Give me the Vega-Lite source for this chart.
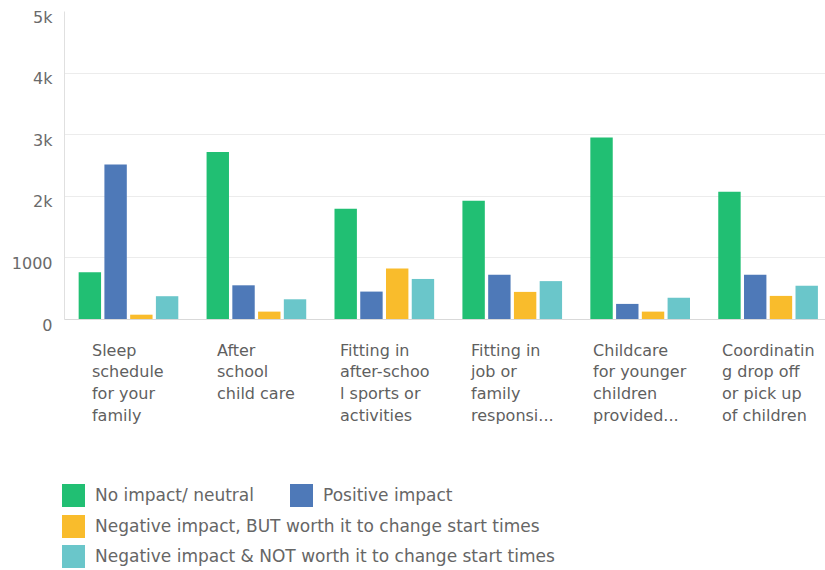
{
  "$schema": "https://vega.github.io/schema/vega-lite/v6.json",
  "width": 761,
  "height": 308,
  "autosize": {"type": "none"},
  "padding": {"left": 64, "top": 11, "right": 0, "bottom": 251},
  "background": "white",
  "config": {"view": {"stroke": null}, "font": "DejaVu Sans"},
  "data": {"values": [
    {"category": "Sleep schedule for your family", "series": "No impact/ neutral", "value": 760},
    {"category": "Sleep schedule for your family", "series": "Positive impact", "value": 2510},
    {"category": "Sleep schedule for your family", "series": "Negative impact, BUT worth it to change start times", "value": 70},
    {"category": "Sleep schedule for your family", "series": "Negative impact & NOT worth it to change start times", "value": 370},
    {"category": "After school child care", "series": "No impact/ neutral", "value": 2710},
    {"category": "After school child care", "series": "Positive impact", "value": 547},
    {"category": "After school child care", "series": "Negative impact, BUT worth it to change start times", "value": 120},
    {"category": "After school child care", "series": "Negative impact & NOT worth it to change start times", "value": 320},
    {"category": "Fitting in after-school sports or activities", "series": "No impact/ neutral", "value": 1790},
    {"category": "Fitting in after-school sports or activities", "series": "Positive impact", "value": 445},
    {"category": "Fitting in after-school sports or activities", "series": "Negative impact, BUT worth it to change start times", "value": 820},
    {"category": "Fitting in after-school sports or activities", "series": "Negative impact & NOT worth it to change start times", "value": 650},
    {"category": "Fitting in job or family responsi...", "series": "No impact/ neutral", "value": 1920},
    {"category": "Fitting in job or family responsi...", "series": "Positive impact", "value": 720},
    {"category": "Fitting in job or family responsi...", "series": "Negative impact, BUT worth it to change start times", "value": 440},
    {"category": "Fitting in job or family responsi...", "series": "Negative impact & NOT worth it to change start times", "value": 615},
    {"category": "Childcare for younger children provided...", "series": "No impact/ neutral", "value": 2945},
    {"category": "Childcare for younger children provided...", "series": "Positive impact", "value": 245},
    {"category": "Childcare for younger children provided...", "series": "Negative impact, BUT worth it to change start times", "value": 120},
    {"category": "Childcare for younger children provided...", "series": "Negative impact & NOT worth it to change start times", "value": 345},
    {"category": "Coordinating drop off or pick up of children", "series": "No impact/ neutral", "value": 2065},
    {"category": "Coordinating drop off or pick up of children", "series": "Positive impact", "value": 720},
    {"category": "Coordinating drop off or pick up of children", "series": "Negative impact, BUT worth it to change start times", "value": 375},
    {"category": "Coordinating drop off or pick up of children", "series": "Negative impact & NOT worth it to change start times", "value": 540}
  ]},
  "encoding": {
    "x": {
      "field": "category", "type": "nominal", "sort": null,
      "scale": {"paddingInner": 0.221, "paddingOuter": 0.085, "align": 0.674},
      "axis": {
        "title": null, "domainColor": "#d9d9d9", "ticks": false, "labelAngle": 0,
        "labelAlign": "left", "labelBaseline": "top", "labelPadding": 23,
        "labelFontSize": 16, "labelColor": "#5f5f5f", "labelLineHeight": 21.7,
        "labelLimit": 0, "labelOverlap": false, "labelBound": false,
        "labelExpr": "datum.value == 'Sleep schedule for your family' ? ['Sleep','schedule','for your','family'] : datum.value == 'After school child care' ? ['After','school','child care'] : datum.value == 'Fitting in after-school sports or activities' ? ['Fitting in','after-schoo','l sports or','activities'] : datum.value == 'Fitting in job or family responsi...' ? ['Fitting in','job or','family','responsi...'] : datum.value == 'Childcare for younger children provided...' ? ['Childcare','for younger','children','provided...'] : ['Coordinatin','g drop off','or pick up','of children']",
        "labelOffset": {"condition": [
          {"test": "datum.value == 'Sleep schedule for your family'", "value": -36.5},
          {"test": "datum.value == 'After school child care'", "value": -39.4},
          {"test": "datum.value == 'Fitting in after-school sports or activities'", "value": -44.3},
          {"test": "datum.value == 'Fitting in job or family responsi...'", "value": -41.2},
          {"test": "datum.value == 'Childcare for younger children provided...'", "value": -47.1}
        ], "value": -46}
      }
    },
    "xOffset": {
      "field": "series", "type": "nominal",
      "scale": {"domain": ["No impact/ neutral", "Positive impact", "Negative impact, BUT worth it to change start times", "Negative impact & NOT worth it to change start times"], "paddingInner": 0.13, "paddingOuter": 0}
    },
    "y": {
      "field": "value", "type": "quantitative",
      "scale": {"domain": [0, 5000], "nice": false},
      "axis": {
        "title": null, "values": [0, 1000, 2000, 3000, 4000, 5000],
        "labelExpr": "datum.value == 0 ? '0' : datum.value == 1000 ? '1000' : (datum.value / 1000) + 'k'",
        "ticks": false, "domainColor": "#e0e0e0", "gridColor": "#ececec",
        "labelPadding": 12, "labelFontSize": 16, "labelColor": "#6a6a6a", "labelOffset": 6,
        "gridOpacity": {"condition": {"test": "datum.value == 5000", "value": 0}, "value": 1}
      }
    }
  },
  "layer": [
    {
      "transform": [{"filter": {"field": "series", "oneOf": ["No impact/ neutral", "Positive impact"]}}],
      "mark": {"type": "bar"},
      "encoding": {
        "color": {
          "field": "series", "type": "nominal",
          "scale": {"domain": ["No impact/ neutral", "Positive impact"], "range": ["#21BF73", "#4E79B8"]},
          "legend": {
            "title": null, "orient": "none", "legendX": -2, "legendY": 473,
            "direction": "horizontal", "columns": 2, "symbolType": "square", "symbolSize": 529,
            "symbolStrokeWidth": 0, "labelFontSize": 17, "labelColor": "#666666", "labelOffset": 10,
            "columnPadding": 36, "rowPadding": 7, "labelLimit": 0
          }
        }
      }
    },
    {
      "transform": [{"filter": {"field": "series", "oneOf": ["Negative impact, BUT worth it to change start times", "Negative impact & NOT worth it to change start times"]}}],
      "mark": {"type": "bar"},
      "encoding": {
        "color": {
          "field": "series", "type": "nominal",
          "scale": {"domain": ["Negative impact, BUT worth it to change start times", "Negative impact & NOT worth it to change start times"], "range": ["#F9BC2C", "#6AC6CA"]},
          "legend": {
            "title": null, "orient": "none", "legendX": -2, "legendY": 504,
            "direction": "vertical", "columns": 1, "symbolType": "square", "symbolSize": 529,
            "symbolStrokeWidth": 0, "labelFontSize": 17, "labelColor": "#666666", "labelOffset": 10,
            "rowPadding": 7, "labelLimit": 0
          }
        }
      }
    }
  ],
  "resolve": {"scale": {"color": "independent"}, "legend": {"color": "independent"}}
}
